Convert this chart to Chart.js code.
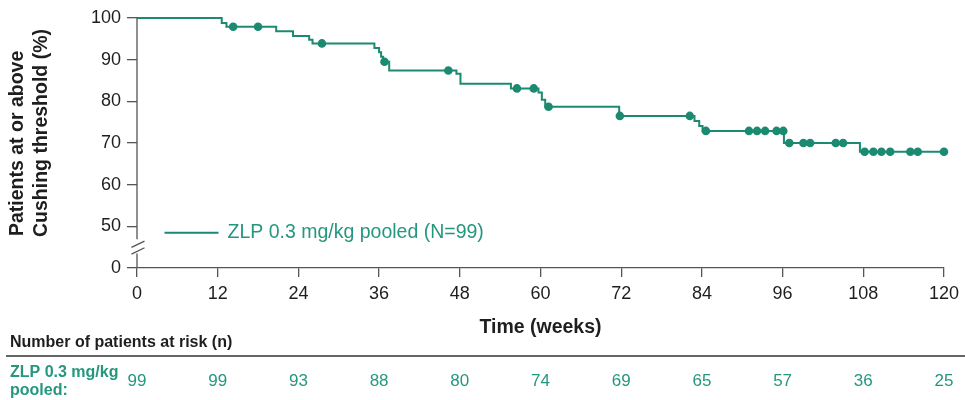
<!DOCTYPE html>
<html>
<head>
<meta charset="utf-8">
<script src="https://cdn.jsdelivr.net/npm/chart.js@4/dist/chart.umd.min.js"></script>
<style>
  html, body { margin: 0; padding: 0; background: #fff; }
  canvas { display: block; }
</style>
</head>
<body>
<canvas id="km" width="965" height="400"></canvas>
<script>
// Krzywa KM: odsetek pacjentów na/ponad progiem Cushinga, ZLP 0.3 mg/kg pooled.
// Punkty schodków = (tydzień zdarzenia, nowa wartość %).
const stepWeeks = [0, 12.6, 13.3, 20.7, 23.2, 25.6, 26.1, 35.3, 36.0, 36.3, 36.6, 37.5, 47.5, 48.1, 55.6, 59.7, 60.2, 60.7, 71.7, 82.9, 83.6, 84.1, 96.2, 107.5, 120];
const stepPct   = [100, 98.8, 97.9, 96.8, 95.7, 94.8, 93.9, 92.8, 91.8, 90.7, 89.5, 87.4, 86.6, 84.2, 83.1, 82.1, 80.4, 78.7, 76.5, 75.3, 74.1, 72.9, 70.0, 67.9, 67.9];

// Obserwacje ocenzurowane (kropki).
const censorWeeks = [14.3, 18.0, 27.5, 36.8, 46.3, 56.5, 59.0, 61.2, 71.8, 82.2, 84.6, 91.0, 92.2, 93.4, 95.1, 96.1, 97.0, 99.1, 100.1, 103.9, 105.0, 108.2, 109.5, 110.7, 112.0, 115.0, 116.1, 120.0];
const censorPct   = [97.9, 97.9, 93.9, 89.5, 87.4, 83.1, 83.1, 78.7, 76.5, 76.5, 72.9, 72.9, 72.9, 72.9, 72.9, 72.9, 70.0, 70.0, 70.0, 70.0, 70.0, 67.9, 67.9, 67.9, 67.9, 67.9, 67.9, 67.9];

// Osie: oś Y jest przerwana, więc pozycja 40 dostaje etykietę "0".
const xTickValues = [0, 12, 24, 36, 48, 60, 72, 84, 96, 108, 120];
const yTickValues = [40, 50, 60, 70, 80, 90, 100];
const yTickText   = ["0", "50", "60", "70", "80", "90", "100"];

// Tabela "at risk" pod wykresem.
const riskWeeks = [0, 12, 24, 36, 48, 60, 72, 84, 96, 108, 120];
const atRisk    = [99, 99, 93, 88, 80, 74, 69, 65, 57, 36, 25];

const seriesLabel = "ZLP 0.3 mg/kg pooled (N=99)";

const TEAL = "#1b8a71";
const TEAL_TEXT = "#25977f";
const INK = "#1e1e1e";
const AXIS = "#555";
const FONT = '"Liberation Sans", Arial, sans-serif';
Chart.defaults.font.family = FONT;

// Wszystko, czego Chart.js nie rysuje sam: przerwana oś Y, tytuły osi, legenda, tabela.
const decor = {
  id: "decor",
  afterDraw(chart) {
    const { ctx, scales: { x, y } } = chart;
    const ax = x.getPixelForValue(0);
    ctx.save();

    ctx.strokeStyle = AXIS; ctx.lineWidth = 1.3;
    ctx.beginPath();
    ctx.moveTo(ax, y.getPixelForValue(100)); ctx.lineTo(ax, y.getPixelForValue(46.9));
    ctx.moveTo(ax, y.getPixelForValue(43.5)); ctx.lineTo(ax, y.getPixelForValue(40));
    for (const v of [45.7, 44.1]) {
      const py = y.getPixelForValue(v);
      ctx.moveTo(ax - 5.5, py + 3.2); ctx.lineTo(ax + 7.5, py - 3.2);
    }
    ctx.stroke();

    // tytuł osi Y (dwie linie, obrócone)
    ctx.fillStyle = INK; ctx.font = `bold 19.5px ${FONT}`;
    ctx.textAlign = "left"; ctx.textBaseline = "alphabetic";
    [["Patients at or above", 23, 236], ["Cushing threshold (%)", 46.5, 237]].forEach(([t, tx, ty]) => {
      ctx.save(); ctx.translate(tx, ty); ctx.rotate(-Math.PI / 2); ctx.fillText(t, 0, 0); ctx.restore();
    });

    // tytuł osi X
    ctx.textAlign = "center";
    ctx.fillText("Time (weeks)", (x.left + x.right) / 2, 333);

    // legenda
    ctx.strokeStyle = TEAL; ctx.lineWidth = 2;
    ctx.beginPath(); ctx.moveTo(164.5, 232.7); ctx.lineTo(218.5, 232.7); ctx.stroke();
    ctx.fillStyle = TEAL_TEXT; ctx.font = `19.5px ${FONT}`; ctx.textAlign = "left";
    ctx.fillText(seriesLabel, 227.5, 237.5);

    // tabela pacjentów w ryzyku
    ctx.fillStyle = INK; ctx.font = `bold 16px ${FONT}`;
    ctx.fillText("Number of patients at risk (n)", 10, 347);
    ctx.strokeStyle = "#333"; ctx.lineWidth = 1.5;
    ctx.beginPath(); ctx.moveTo(6, 356); ctx.lineTo(965, 356); ctx.stroke();
    ctx.fillStyle = TEAL_TEXT;
    ctx.fillText("ZLP 0.3 mg/kg", 10, 377);
    ctx.fillText("pooled:", 10, 394.5);
    ctx.font = `17px ${FONT}`; ctx.textAlign = "center";
    riskWeeks.forEach((w, i) => ctx.fillText(String(atRisk[i]), x.getPixelForValue(w), 385.5));

    ctx.restore();
  },
};

new Chart(document.getElementById("km"), {
  type: "scatter",
  data: {
    datasets: [
      {
        label: seriesLabel,
        data: stepWeeks.map((w, i) => ({ x: w, y: stepPct[i] })),
        showLine: true, stepped: true, borderColor: TEAL, borderWidth: 2,
        pointRadius: 0, fill: false, clip: 6,
      },
      {
        label: "censored",
        data: censorWeeks.map((w, i) => ({ x: w, y: censorPct[i] })),
        showLine: false, pointRadius: 4.3, pointBackgroundColor: TEAL,
        pointBorderColor: TEAL, pointBorderWidth: 0, clip: 8,
      },
    ],
  },
  options: {
    responsive: false, animation: false, devicePixelRatio: 1,
    layout: { padding: { top: 18, right: 18, left: 0, bottom: 0 } },
    plugins: { legend: { display: false }, tooltip: { enabled: false } },
    scales: {
      x: {
        type: "linear", min: 0, max: 120,
        afterBuildTicks: s => { s.ticks = xTickValues.map(v => ({ value: v })); },
        afterFit: s => { s.height = 132; },
        ticks: { font: { size: 18 }, color: INK, padding: 6, maxRotation: 0 },
        grid: { drawOnChartArea: false, tickLength: 9, color: AXIS, lineWidth: 1.3 },
        border: { display: true, color: AXIS, width: 1.3 },
      },
      y: {
        type: "linear", min: 40, max: 100,
        afterBuildTicks: s => { s.ticks = yTickValues.map(v => ({ value: v })); },
        afterFit: s => { s.width = 137; },
        ticks: { callback: v => yTickText[yTickValues.indexOf(v)], font: { size: 18 }, color: INK, padding: 6 },
        grid: { drawOnChartArea: false, tickLength: 10, color: AXIS, lineWidth: 1.3 },
        border: { display: false },
      },
    },
  },
  plugins: [decor],
});
</script>
</body>
</html>
